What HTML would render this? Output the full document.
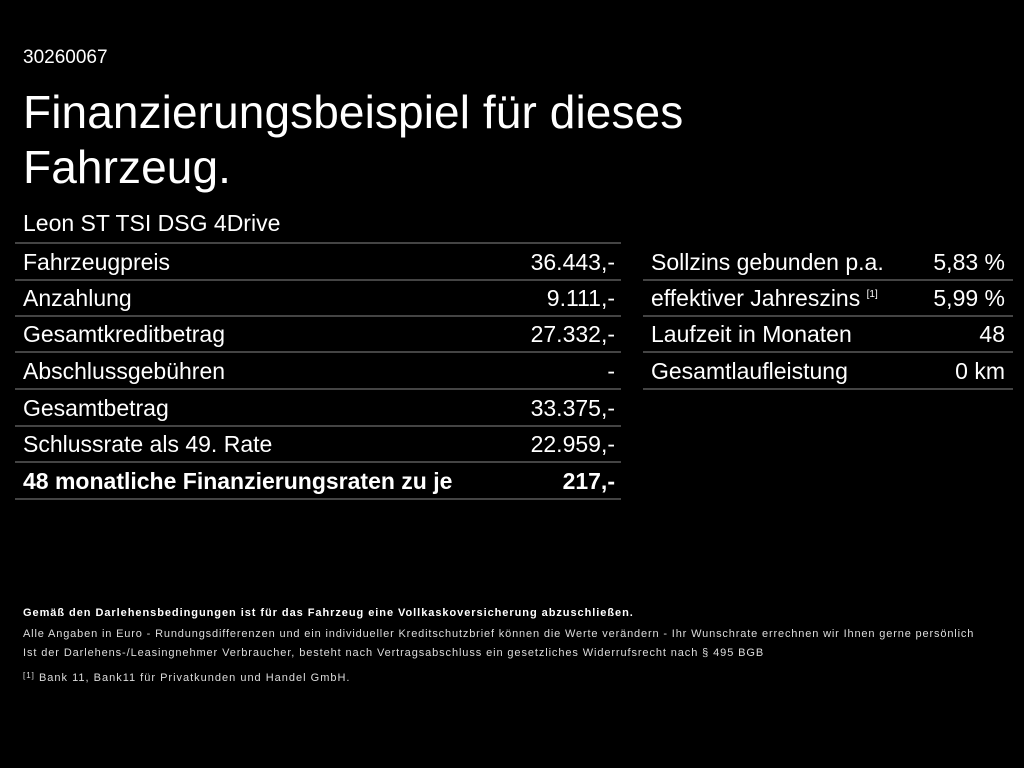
<!DOCTYPE html>
<html><head><meta charset="utf-8"><style>
body{margin:0;background:#000;width:1024px;height:768px;overflow:hidden;font-family:"Liberation Sans",Arial,sans-serif;color:#fff;position:relative}
.a{position:absolute;white-space:nowrap}
.line{position:absolute;height:2px;background:#444}
.r{position:absolute;font-size:23px;line-height:36px;white-space:nowrap}
.s{font-size:11px;line-height:17px;color:#ddd;letter-spacing:0.9px}
</style></head><body>
<div class="a" style="left:23px;top:47px;font-size:19px">30260067</div>
<div class="a" style="left:23px;top:85px;font-size:46px;line-height:55px;letter-spacing:0.1px">Finanzierungsbeispiel für dieses<br>Fahrzeug.</div>
<div class="a" style="left:23px;top:210px;font-size:23px">Leon ST TSI DSG 4Drive</div>

<div class="line" style="left:15px;width:606px;top:242px"></div>
<div class="line" style="left:15px;width:606px;top:279px"></div>
<div class="line" style="left:15px;width:606px;top:315px"></div>
<div class="line" style="left:15px;width:606px;top:351px"></div>
<div class="line" style="left:15px;width:606px;top:388px"></div>
<div class="line" style="left:15px;width:606px;top:425px"></div>
<div class="line" style="left:15px;width:606px;top:461px"></div>
<div class="line" style="left:15px;width:606px;top:498px"></div>

<div class="r" style="left:23px;top:244px">Fahrzeugpreis</div><div class="r" style="right:409px;top:244px">36.443,-</div>
<div class="r" style="left:23px;top:280px">Anzahlung</div><div class="r" style="right:409px;top:280px">9.111,-</div>
<div class="r" style="left:23px;top:316px">Gesamtkreditbetrag</div><div class="r" style="right:409px;top:316px">27.332,-</div>
<div class="r" style="left:23px;top:353px">Abschlussgebühren</div><div class="r" style="right:409px;top:353px">-</div>
<div class="r" style="left:23px;top:390px">Gesamtbetrag</div><div class="r" style="right:409px;top:390px">33.375,-</div>
<div class="r" style="left:23px;top:426px">Schlussrate als 49. Rate</div><div class="r" style="right:409px;top:426px">22.959,-</div>
<div class="r" style="left:23px;top:463px;font-weight:bold">48 monatliche Finanzierungsraten zu je</div><div class="r" style="right:409px;top:463px;font-weight:bold">217,-</div>

<div class="line" style="left:643px;width:370px;top:279px"></div>
<div class="line" style="left:643px;width:370px;top:315px"></div>
<div class="line" style="left:643px;width:370px;top:351px"></div>
<div class="line" style="left:643px;width:370px;top:388px"></div>
<div class="r" style="left:651px;top:244px">Sollzins gebunden p.a.</div><div class="r" style="right:19px;top:244px">5,83 %</div>
<div class="r" style="left:651px;top:280px">effektiver Jahreszins <span style="font-size:10px;position:relative;top:-9px">[1]</span></div><div class="r" style="right:19px;top:280px">5,99 %</div>
<div class="r" style="left:651px;top:316px">Laufzeit in Monaten</div><div class="r" style="right:19px;top:316px">48</div>
<div class="r" style="left:651px;top:353px">Gesamtlaufleistung</div><div class="r" style="right:19px;top:353px">0 km</div>

<div class="a s" style="left:23px;top:605px;font-weight:bold;color:#fff;letter-spacing:0.95px">Gemäß den Darlehensbedingungen ist für das Fahrzeug eine Vollkaskoversicherung abzuschließen.</div>
<div class="a s" style="left:23px;top:626px;letter-spacing:0.85px">Alle Angaben in Euro - Rundungsdifferenzen und ein individueller Kreditschutzbrief können die Werte verändern - Ihr Wunschrate errechnen wir Ihnen gerne persönlich</div>
<div class="a s" style="left:23px;top:645px">Ist der Darlehens-/Leasingnehmer Verbraucher, besteht nach Vertragsabschluss ein gesetzliches Widerrufsrecht nach § 495 BGB</div>
<div class="a s" style="left:23px;top:670px;letter-spacing:1px"><span style="font-size:8px;position:relative;top:-3px">[1]</span> Bank 11, Bank11 für Privatkunden und Handel GmbH.</div>
</body></html>
